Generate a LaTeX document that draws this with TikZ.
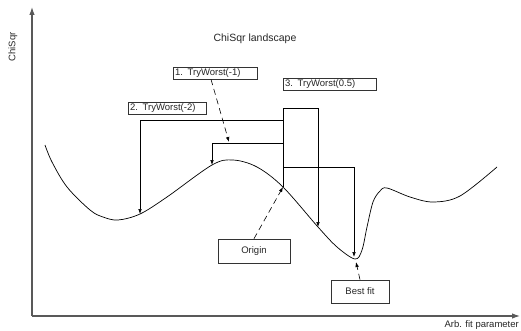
\documentclass[tikz,border=0pt]{standalone}
\usepackage{fontspec}
\setmainfont{Liberation Sans}
\usetikzlibrary{arrows.meta}
\begin{document}
\begin{tikzpicture}[x=1pt,y=-1pt,
  txt/.style={font=\fontsize{9.5}{11}\selectfont, text=black!85, inner sep=0pt},
  lbox/.style={draw=black!80, line width=0.7pt, font=\fontsize{9.5}{11}\selectfont, text=black!85,
     minimum height=12pt, inner ysep=0pt, inner xsep=2pt, align=left},
  cbox/.style={draw=black!80, line width=0.7pt, font=\fontsize{9.5}{11}\selectfont, text=black!85,
     inner sep=0pt, align=center},
  axis/.style={draw=black!65, line width=1.1pt, -{Latex[length=8pt,width=5.5pt]}},
  conn/.style={draw=black, line width=0.6pt, -{Latex[length=5pt,width=3.6pt]}},
  dconn/.style={conn, dash pattern=on 6pt off 4pt}
]
\useasboundingbox (0,0) rectangle (521,331);
% axes
\coordinate (O) at (32,316);
\coordinate (Ytop) at (32,7);
\coordinate (Xend) at (520,316);
\draw[axis] (O) -- (Ytop);
\draw[axis] (O) -- (Xend);
\node[txt, rotate=90] (ylab) at (13,47) {ChiSqr};
\node[txt, anchor=east] (xlab) at (519,325) {Arb. fit parameter};
\node[txt, font=\fontsize{10.5}{12}\selectfont] (title) at (255,39) {ChiSqr landscape};
% curve
\draw[line width=0.7pt] plot[smooth, tension=0.55] coordinates {
 (45,145) (52,162) (67,187) (90,210) (103,217) (118,220) (140,214) (167,197)
 (212,165) (233,160) (257,167) (283,187) (318,227) (337,247) (355,259)
 (362,250) (367,227) (373,202) (380,191) (387,188) (410,197) (433,202)
 (460,196) (497,167)};
% boxes
\node[lbox, text width=80pt] (b1) at (215,73) {1. TryWorst(-1)};
\node[lbox, text width=89pt] (b3) at (329.5,84.5) {3. TryWorst(0.5)};
\node[lbox, text width=74pt] (b2) at (167,108.5) {2. TryWorst(-2)};
\node[cbox, minimum width=72pt, minimum height=24pt] (orig) at (254,251) {Origin};
\node[cbox, minimum width=58pt, minimum height=23pt] (best) at (360,291.5) {Best fit};
% points on the curve
\coordinate (P0) at (283,187);
\coordinate (C1) at (212,165);
\coordinate (C2) at (140,214);
\coordinate (C3) at (318,227);
\coordinate (C4) at (354,257);
\coordinate (Cb) at (356,262);
% corners of the brackets
\coordinate (R1) at (283,108);
\coordinate (R2) at (318,108);
\coordinate (L2a) at (283,120);
\coordinate (L2b) at (140,120);
\coordinate (L1a) at (283,143);
\coordinate (L1b) at (212,143);
\coordinate (L4a) at (283,167);
\coordinate (L4b) at (354,167);
\coordinate (T1) at (229,142);
% brackets
\draw[conn] (P0) -- (R1) -- (R2) -- (C3);
\draw[conn] (L2a) -- (L2b) -- (C2);
\draw[conn] (L1a) -- (L1b) -- (C1);
\draw[conn] (L4a) -- (L4b) -- (C4);
% dashed pointers
\draw[dconn] ([xshift=-4pt]b1.south) -- (T1);
\draw[dconn] (orig.north) -- (P0);
\draw[dconn] (best.north) -- (Cb);
\end{tikzpicture}
\end{document}
